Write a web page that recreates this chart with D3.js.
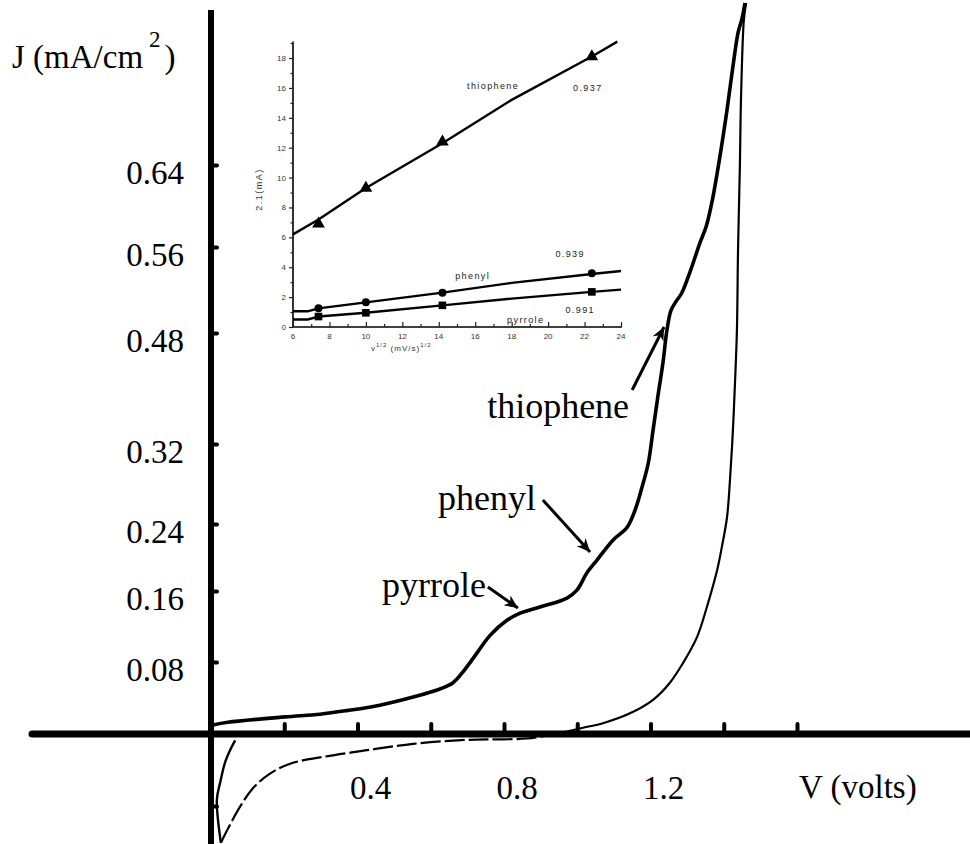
<!DOCTYPE html>
<html><head><meta charset="utf-8">
<script src="https://cdn.jsdelivr.net/npm/d3@7"></script>
<style>body{margin:0;background:#fff}svg{display:block}</style>
</head><body><svg id="c" width="970" height="844"></svg>
<script>
// ---------- main chart data ----------
const yTickValues = [0.08, 0.16, 0.24, 0.32, 0.48, 0.56, 0.64];
const yTickLabels = ["0.08", "0.16", "0.24", "0.32", "0.48", "0.56", "0.64"];
const yTickMarks = [-0.08, 0.08, 0.16, 0.24, 0.32, 0.48, 0.56, 0.64];
const xTickMarks = [0.2, 0.4, 0.6, 0.8, 1.0, 1.2, 1.4, 1.6];
const xTickValues = [0.4, 0.8, 1.2];
const xTickLabels = ["0.4", "0.8", "1.2"];

// forward (anodic) scan [V, J]
const forwardScan = [[0.005,0.010],[0.046,0.013],[0.202,0.019],[0.298,0.022],[0.371,0.026],[0.461,0.032],[0.552,0.041],[0.625,0.050],[0.661,0.057],[0.688,0.069],[0.726,0.090],[0.762,0.110],[0.808,0.127],[0.844,0.135],[0.898,0.142],[0.972,0.152],[0.999,0.161],[1.027,0.182],[1.054,0.197],[1.098,0.221],[1.136,0.236],[1.158,0.254],[1.177,0.277],[1.194,0.301],[1.207,0.340],[1.220,0.388],[1.234,0.437],[1.245,0.483],[1.256,0.501],[1.269,0.509],[1.285,0.517],[1.307,0.536],[1.335,0.564],[1.352,0.580],[1.369,0.606],[1.388,0.645],[1.409,0.694],[1.425,0.736],[1.439,0.769],[1.450,0.783],[1.458,0.798]];
// reverse scan, upper part [V, J]
const reverseUpper = [[1.461,0.798],[1.455,0.782],[1.447,0.703],[1.444,0.638],[1.439,0.557],[1.436,0.483],[1.431,0.412],[1.425,0.340],[1.417,0.284],[1.409,0.247],[1.395,0.213],[1.382,0.185],[1.354,0.142],[1.327,0.108],[1.289,0.079],[1.253,0.057],[1.207,0.038],[1.144,0.023],[1.070,0.012],[1.016,0.007],[0.953,0.001]];
// reverse scan, lower (cathodic) part [V, J]
const reverseLower = [[0.953,0.001],[0.863,-0.005],[0.762,-0.006],[0.672,-0.007],[0.552,-0.011],[0.426,-0.018],[0.298,-0.026],[0.216,-0.033],[0.161,-0.044],[0.115,-0.060],[0.079,-0.081],[0.044,-0.107],[0.027,-0.121]];
// return branch near 0 V [V, J]
const returnBranch = [[0.027,-0.121],[0.016,-0.073],[0.025,-0.054],[0.038,-0.032],[0.052,-0.018],[0.066,-0.007]];

// annotations: label, text anchor [V,J], arrow tail [V,J], arrow head [V,J]
const annLabels = ["thiophene", "phenyl", "pyrrole"];
const annText = [[0.754,0.3575],[0.620,0.254],[0.467,0.1532]];
const annTail = [[1.150,0.3978],[0.906,0.264],[0.756,0.1648]];
const annHead = [[1.237,0.4856],[1.035,0.2066],[0.838,0.1408]];

// ---------- inset data ----------
const insetXTicks = [6, 8, 10, 12, 14, 16, 18, 20, 22, 24];
const insetYTicks = [0, 2, 4, 6, 8, 10, 12, 14, 16, 18];
const scanRateRoot = [7.4, 10, 14.2, 22.4];
const thiophenePeaks = [6.9, 9.3, 12.4, 18.1];
const phenylPeaks = [1.25, 1.65, 2.3, 3.6];
const pyrrolePeaks = [0.7, 0.95, 1.45, 2.35];
const thiopheneFit = [[6,6.2],[7.4,7.2],[10,9.3],[14.2,12.3],[18,15.2],[22.4,18.1],[23.8,19.1]];
const phenylFit = [[6,1.05],[6.8,1.05],[7.4,1.25],[10,1.65],[14.2,2.3],[18,2.95],[22.4,3.55],[24,3.75]];
const pyrroleFit = [[6,0.5],[6.8,0.5],[7.4,0.7],[10,0.95],[14.2,1.45],[18,1.9],[22.4,2.35],[24,2.5]];
const insetLabels = ["thiophene", "0.937", "phenyl", "0.939", "pyrrole", "0.991"];
const insetLabelPos = [[15.55,15.9],[21.37,15.8],[14.9,3.2],[20.4,4.7],[17.75,0.25],[20.95,0.94]];

// ---------- drawing ----------
const svg = d3.select("#c");
svg.append("rect").attr("width", 970).attr("height", 844).attr("fill", "#fff");
const serif = "'Liberation Serif','Times New Roman',serif";

const x = d3.scaleLinear().domain([0, 1.6]).range([211, 797]);
const y = d3.scaleLinear().domain([0].concat(yTickValues)).range([734, 662, 591, 524, 444, 333, 247, 165]);

// axis lines
svg.append("line").attr("x1", 32).attr("x2", 970).attr("y1", y(0)).attr("y2", y(0))
  .attr("stroke", "#000").attr("stroke-width", 7).attr("stroke-linecap", "round");
svg.append("line").attr("x1", x(0)).attr("x2", x(0)).attr("y1", 10).attr("y2", 844)
  .attr("stroke", "#000").attr("stroke-width", 6);

// tick marks via d3 axes
const yAx = svg.append("g").attr("transform", `translate(${x(0)},0)`)
  .call(d3.axisRight(y).tickValues(yTickMarks).tickSize(6).tickFormat(""));
yAx.select(".domain").remove();
yAx.selectAll(".tick line").attr("stroke", "#000").attr("stroke-width", 4).attr("stroke-linecap", "round");

const xAx = svg.append("g").attr("transform", `translate(0,${y(0)})`)
  .call(d3.axisTop(x).tickValues(xTickMarks).tickSize(10).tickFormat(""));
xAx.select(".domain").remove();
xAx.selectAll(".tick line").attr("stroke", "#000").attr("stroke-width", 4).attr("stroke-linecap", "round");

// tick labels
svg.append("g").selectAll("text").data(yTickValues).join("text")
  .attr("x", 184).attr("y", d => y(d) + 19).attr("text-anchor", "end")
  .attr("font-family", serif).attr("font-size", 33).attr("fill", "#000")
  .text((d, i) => yTickLabels[i]);
svg.append("g").selectAll("text").data(xTickValues).join("text")
  .attr("x", d => x(d) + 13).attr("y", 799).attr("text-anchor", "middle")
  .attr("font-family", serif).attr("font-size", 33).attr("fill", "#000")
  .text((d, i) => xTickLabels[i]);

// axis titles
const yt = svg.append("text").attr("x", 12).attr("y", 68).attr("font-family", serif)
  .attr("font-size", 33).attr("fill", "#000");
yt.append("tspan").text("J (mA/cm");
yt.append("tspan").attr("dx", 6).attr("dy", -21).attr("font-size", 23).text("2");
yt.append("tspan").attr("dx", 4).attr("dy", 21).text(")");
svg.append("text").attr("x", 799).attr("y", 798).attr("font-family", serif)
  .attr("font-size", 33).attr("fill", "#000").text("V (volts)");

// curves
const line = d3.line().x(d => x(d[0])).y(d => y(d[1])).curve(d3.curveCatmullRom.alpha(0.5));
svg.append("path").attr("d", line(forwardScan)).attr("fill", "none").attr("stroke", "#000")
  .attr("stroke-width", 3.6).attr("stroke-linejoin", "round");
svg.append("path").attr("d", line(reverseUpper)).attr("fill", "none").attr("stroke", "#000")
  .attr("stroke-width", 2.2);
svg.append("path").attr("d", line(reverseLower)).attr("fill", "none").attr("stroke", "#000")
  .attr("stroke-width", 2.2).attr("stroke-dasharray", "20 4");
svg.append("path").attr("d", line(returnBranch)).attr("fill", "none").attr("stroke", "#000")
  .attr("stroke-width", 2.4);

// annotations
const defs = svg.append("defs");
defs.append("marker").attr("id", "ah").attr("viewBox", "0 0 12 12").attr("refX", 11).attr("refY", 6)
  .attr("markerWidth", 16).attr("markerHeight", 16).attr("markerUnits", "userSpaceOnUse")
  .attr("orient", "auto")
  .append("path").attr("d", "M1,1.5 L11,6 L1,10.5 L4,6 Z").attr("fill", "#000");
annLabels.forEach((lab, i) => {
  svg.append("text").attr("x", x(annText[i][0])).attr("y", y(annText[i][1]))
    .attr("font-family", serif).attr("font-size", 36).attr("fill", "#000").text(lab);
  svg.append("line").attr("x1", x(annTail[i][0])).attr("y1", y(annTail[i][1]))
    .attr("x2", x(annHead[i][0])).attr("y2", y(annHead[i][1]))
    .attr("stroke", "#000").attr("stroke-width", 3).attr("marker-end", "url(#ah)");
});

// ---------- inset ----------
const ix = d3.scaleLinear().domain([6, 24]).range([293, 621]);
const iy = d3.scaleLinear().domain([0, 19]).range([327, 43.1]);
const sans = "'Liberation Sans',Arial,sans-serif";
const ins = svg.append("g");
ins.append("line").attr("x1", ix(6)).attr("x2", ix(6)).attr("y1", iy(0)).attr("y2", iy(19.1))
  .attr("stroke", "#000").attr("stroke-width", 1.6);
ins.append("line").attr("x1", ix(6)).attr("x2", ix(24.05)).attr("y1", iy(0)).attr("y2", iy(0))
  .attr("stroke", "#000").attr("stroke-width", 1.6);
const iyAx = ins.append("g").attr("transform", `translate(${ix(6)},0)`)
  .call(d3.axisLeft(iy).tickValues(d3.range(0, 20, 1)).tickSize(4).tickFormat(""));
iyAx.select(".domain").remove();
iyAx.selectAll(".tick line").attr("stroke", "#222").attr("stroke-width", 1.2)
  .attr("x2", d => d % 2 === 0 ? -4 : -2.5);
const ixAx = ins.append("g").attr("transform", `translate(0,${iy(0)})`)
  .call(d3.axisTop(ix).tickValues(d3.range(6, 25, 1)).tickSize(4).tickFormat(""));
ixAx.select(".domain").remove();
ixAx.selectAll(".tick line").attr("stroke", "#222").attr("stroke-width", 1.2)
  .attr("y2", d => d % 2 === 0 ? -5 : -3);
ins.append("g").selectAll("text").data(insetYTicks).join("text")
  .attr("x", ix(6) - 7).attr("y", d => iy(d) + 3).attr("text-anchor", "end")
  .attr("font-family", sans).attr("font-size", 8).attr("fill", "#333").text(d => d);
ins.append("g").selectAll("text").data(insetXTicks).join("text")
  .attr("x", d => ix(d)).attr("y", iy(0) + 12).attr("text-anchor", "middle")
  .attr("font-family", sans).attr("font-size", 8).attr("fill", "#333").text(d => d);
// inset axis titles
ins.append("text").attr("transform", `translate(262,${iy(9.2)}) rotate(-90)`)
  .attr("text-anchor", "middle").attr("font-family", sans).attr("font-size", 9)
  .attr("letter-spacing", 1.5).attr("fill", "#333").text("2.1(mA)");
const ixt = ins.append("text").attr("x", 371).attr("y", iy(0) + 24).attr("font-family", sans)
  .attr("font-size", 8).attr("fill", "#333").attr("letter-spacing", 1);
ixt.append("tspan").text("v");
ixt.append("tspan").attr("dy", -4).attr("font-size", 6).text("1/2");
ixt.append("tspan").attr("dy", 4).text(" (mV/s)");
ixt.append("tspan").attr("dy", -4).attr("font-size", 6).text("1/2");

const iline = d3.line().x(d => ix(d[0])).y(d => iy(d[1]));
[thiopheneFit, phenylFit, pyrroleFit].forEach(s => {
  ins.append("path").attr("d", iline(s)).attr("fill", "none").attr("stroke", "#000")
    .attr("stroke-width", 2.4).attr("stroke-linejoin", "round");
});
ins.append("g").selectAll("path").data(thiophenePeaks).join("path")
  .attr("transform", (d, i) => `translate(${ix(scanRateRoot[i])},${iy(d)})`)
  .attr("d", d3.symbol(d3.symbolTriangle, 70)).attr("fill", "#000");
ins.append("g").selectAll("circle").data(phenylPeaks).join("circle")
  .attr("cx", (d, i) => ix(scanRateRoot[i])).attr("cy", d => iy(d)).attr("r", 4).attr("fill", "#000");
ins.append("g").selectAll("rect").data(pyrrolePeaks).join("rect")
  .attr("x", (d, i) => ix(scanRateRoot[i]) - 3.8).attr("y", d => iy(d) - 3.8)
  .attr("width", 7.6).attr("height", 7.6).attr("fill", "#000");
ins.append("g").selectAll("text").data(insetLabels).join("text")
  .attr("x", (d, i) => ix(insetLabelPos[i][0])).attr("y", (d, i) => iy(insetLabelPos[i][1]))
  .attr("font-family", sans).attr("font-size", 9).attr("letter-spacing", 1.4)
  .attr("fill", "#222").text(d => d);
</script></body></html>
